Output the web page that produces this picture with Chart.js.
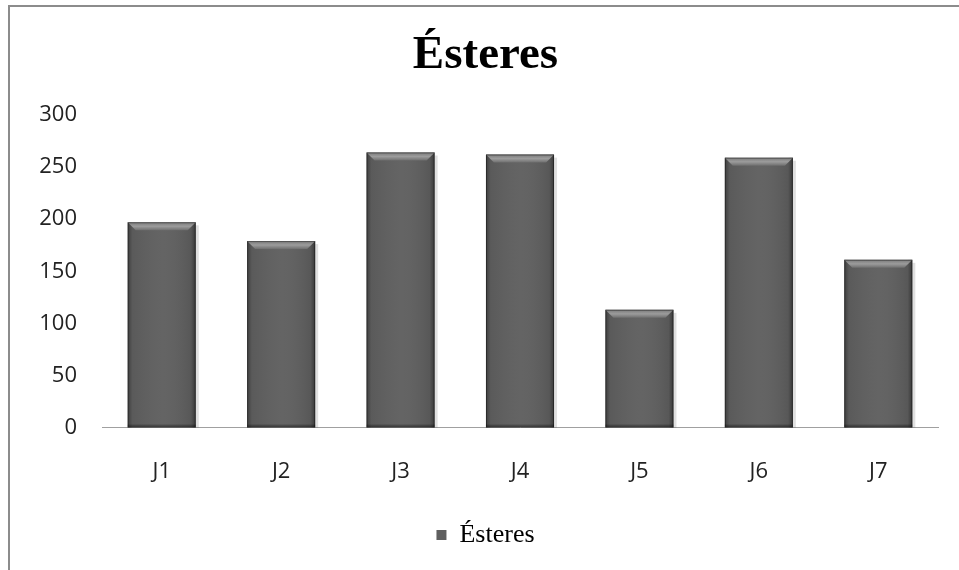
<!DOCTYPE html>
<html>
<head>
<meta charset="utf-8">
<script src="https://cdn.jsdelivr.net/npm/chart.js@4/dist/chart.umd.min.js"></script>
<style>
  html, body { margin: 0; padding: 0; background: #fff; }
  #wrap { position: relative; width: 959px; height: 570px; overflow: hidden; }
  #frame { position: absolute; left: 8px; top: 5px; width: 1000px; height: 600px;
           border-left: 2px solid #8c8c8c; border-top: 2px solid #8c8c8c; }
  #chart { position: absolute; left: 0; top: 0; }
</style>
</head>
<body>
<div id="wrap">
  <div id="frame"></div>
  <canvas id="chart" width="959" height="570"></canvas>
</div>
<script>
// Ésteres chart

const categories = ["J1", "J2", "J3", "J4", "J5", "J6", "J7"];
const esteres    = [197, 179, 264, 262, 113, 259, 161];
const yTicks     = [0, 50, 100, 150, 200, 250, 300];

const BAR = "#5f5f5f";

// bevel look of the bars, drawn on top of the library's own bar elements
const bevel = {
  id: "bevel",
  afterDatasetsDraw(chart) {
    const ctx = chart.ctx;
    chart.getDatasetMeta(0).data.forEach(bar => {
      const { x, y, base, width } = bar.getProps(["x", "y", "base", "width"], true);
      const l = x - width / 2, r = x + width / 2;
      const b = 8;
      ctx.save();
      // soft shadow right side
      ctx.fillStyle = "rgba(0,0,0,0.12)";
      ctx.fillRect(r, y + 3, 3, base - y - 3);
      // side shading
      let g = ctx.createLinearGradient(l, 0, r, 0);
      g.addColorStop(0, "rgba(0,0,0,0.35)");
      g.addColorStop(0.07, "rgba(0,0,0,0.05)");
      g.addColorStop(0.5, "rgba(255,255,255,0.03)");
      g.addColorStop(0.93, "rgba(0,0,0,0.08)");
      g.addColorStop(1, "rgba(0,0,0,0.4)");
      ctx.fillStyle = g;
      ctx.fillRect(l, y, width, base - y);
      // bottom edge
      ctx.fillStyle = "rgba(0,0,0,0.25)";
      ctx.fillRect(l, base - 3, width, 3);
      // top bevel
      g = ctx.createLinearGradient(0, y, 0, y + b);
      g.addColorStop(0, "#7a7a7a");
      g.addColorStop(0.5, "#9c9c9c");
      g.addColorStop(1, "#6e6e6e");
      ctx.fillStyle = g;
      ctx.beginPath();
      ctx.moveTo(l, y);
      ctx.lineTo(r, y);
      ctx.lineTo(r - b, y + b);
      ctx.lineTo(l + b, y + b);
      ctx.closePath();
      ctx.fill();
      ctx.strokeStyle = "rgba(0,0,0,0.35)";
      ctx.lineWidth = 1;
      ctx.strokeRect(l + 0.5, y + 0.5, width - 1, base - y - 1);
      ctx.restore();
    });
  }
};

new Chart(document.getElementById("chart"), {
  type: "bar",
  data: {
    labels: categories,
    datasets: [{
      label: "Ésteres",
      data: esteres,
      backgroundColor: BAR,
      borderWidth: 0,
      barPercentage: 0.57,
      categoryPercentage: 1
    }]
  },
  options: {
    responsive: false,
    animation: false,
    layout: { padding: { left: 33, right: 21, top: 0, bottom: 12 } },
    plugins: {
      title: {
        display: true,
        text: "Ésteres",
        color: "#000",
        font: { family: "Liberation Serif", size: 47, weight: "bold", lineHeight: 1.2 },
        padding: { top: 28, bottom: 30.6 }
      },
      legend: {
        display: true,
        position: "bottom",
        labels: {
          color: "#000",
          font: { family: "Liberation Serif", size: 26 },
          boxWidth: 10,
          boxHeight: 10,
          padding: 6
        }
      },
      tooltip: { enabled: false }
    },
    scales: {
      x: {
        grid: { display: false, drawTicks: false },
        border: { display: true, color: "#a0a0a0", width: 1 },
        ticks: { color: "#222", padding: 31, font: { family: "Open Sans", size: 22 } }
      },
      y: {
        min: 0,
        max: 300,
        afterBuildTicks: s => { s.ticks = yTicks.map(v => ({ value: v })); },
        afterFit: s => { s.width = 69; },
        grid: { display: false, drawTicks: false },
        border: { display: false },
        ticks: { color: "#222", padding: 25, font: { family: "Open Sans", size: 22 } }
      }
    }
  },
  plugins: [bevel]
});
</script>
</body>
</html>
